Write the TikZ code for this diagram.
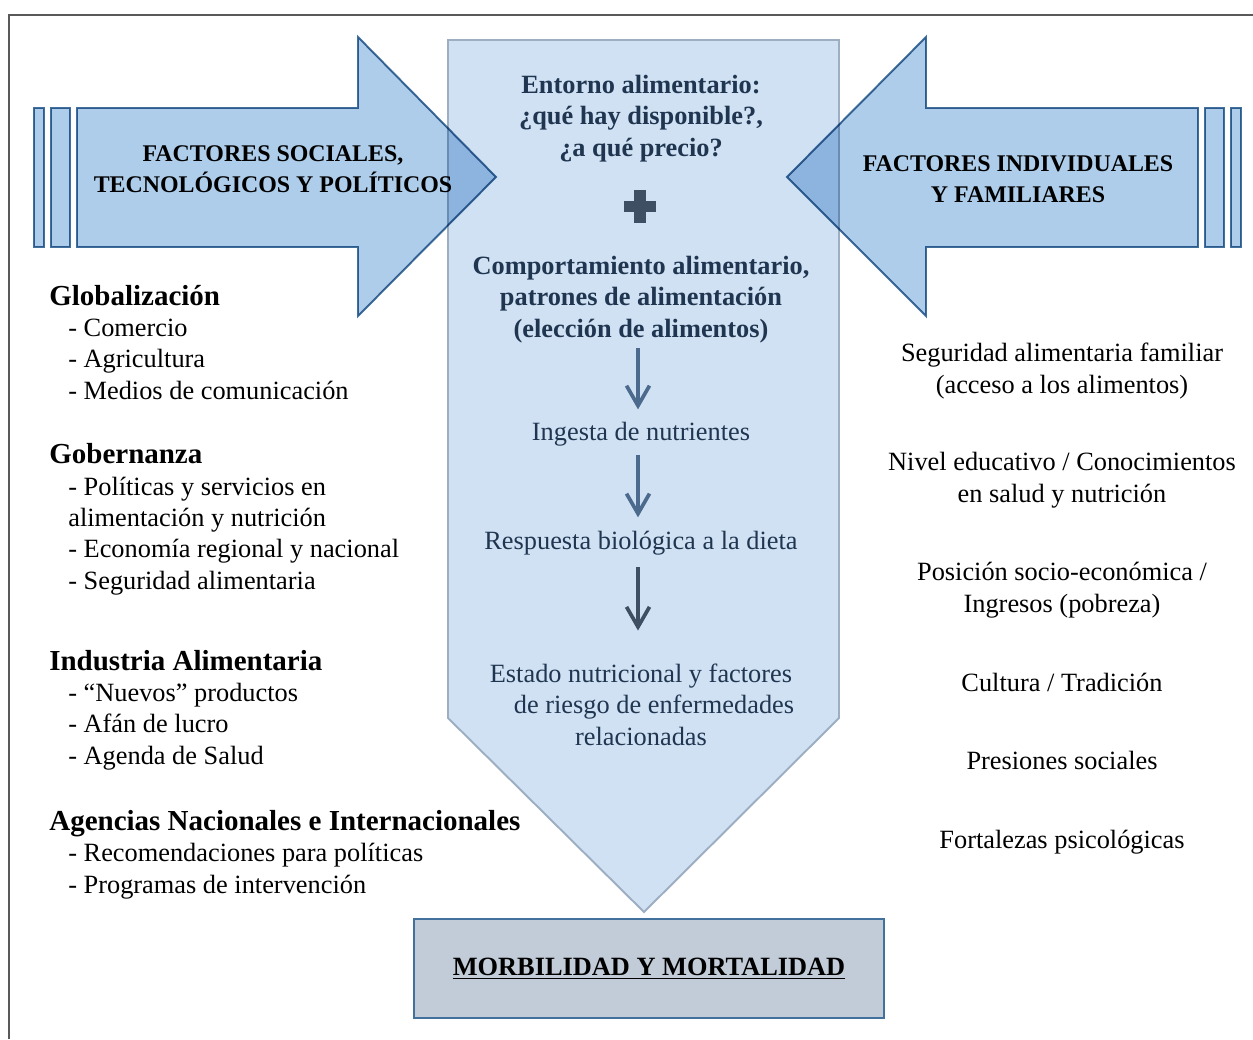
\documentclass[tikz,border=0pt]{standalone}
\usepackage{fontspec}
\setmainfont{Liberation Serif}
\usepackage{xcolor}
\usetikzlibrary{arrows.meta,positioning}
\definecolor{panelfill}{HTML}{CFE1F2}
\definecolor{panelline}{HTML}{9DAEC3}
\definecolor{sidefill}{HTML}{ADCDEA}
\definecolor{sideline}{HTML}{41719C}
\definecolor{boxfill}{HTML}{C2CCD9}
\definecolor{navy}{HTML}{1F3550}
\definecolor{flowblue}{HTML}{4B6A8E}
\definecolor{flowdark}{HTML}{3E4E63}
\definecolor{framegray}{HTML}{595959}
\newcommand{\bodyfont}{\fontsize{15}{17.8}\selectfont}
\newcommand{\headfont}{\fontsize{16.5}{17.8}\selectfont\bfseries}

\begin{document}
\begin{tikzpicture}[
  x=0.02cm, y=-0.02cm,
  every node/.style={inner sep=0pt},
  group/.style={anchor=base west,align=left,font=\bodyfont},
  rlist/.style={anchor=base,align=center,font=\bodyfont},
  mid/.style={anchor=base,align=center,text=navy,font=\bodyfont},
  midbold/.style={mid,font=\bodyfont\bfseries},
  sidelbl/.style={anchor=base,align=center,font=\fontsize{13.6}{17.4}\selectfont\bfseries},
  sidearrow/.style={fill=sidefill,draw=sideline,line width=1.1pt},
  flow/.style={line width=2.1pt,-{Straight Barb[length=0.4cm,width=0.46cm]}}
]
  \useasboundingbox (0,0) rectangle (1253,1039);
  \draw[framegray,line width=1pt] (9,1039) -- (9,15) -- (1253,15);

  % central column
  \draw[fill=panelfill,draw=panelline,line width=1.1pt]
    (448,40) -- (839,40) -- (839,718) -- (644,912) -- (448,718) -- cycle;

  % side arrows
  \begin{scope}[blend mode=multiply]
    \draw[sidearrow] (77,108) -- (358,108) -- (358,37) -- (496,177)
      -- (358,316) -- (358,247) -- (77,247) -- cycle;
    \draw[sidearrow] (34,108) rectangle (44,247);
    \draw[sidearrow] (51,108) rectangle (70,247);
    \draw[sidearrow] (1198,108) -- (926,108) -- (926,37) -- (787,177)
      -- (926,316) -- (926,247) -- (1198,247) -- cycle;
    \draw[sidearrow] (1205,108) rectangle (1224,247);
    \draw[sidearrow] (1231,108) rectangle (1241,247);
  \end{scope}
  % multi-line nodes sit on the baseline of their last line
  \node[sidelbl] (social) at (273,192) {FACTORES SOCIALES,\\TECNOLÓGICOS Y POLÍTICOS};
  \node[sidelbl] (indiv) at (1018,202) {FACTORES INDIVIDUALES\\Y FAMILIARES};

  % central text
  \node[midbold] (entorno) at (641,156) {Entorno alimentario:\\¿qué hay disponible?,\\¿a qué precio?};
  \fill[flowdark] (624,201) rectangle (656,212);
  \fill[flowdark] (634,190) rectangle (646,223);
  \node[midbold] (comport) at (641,337) {Comportamiento alimentario,\\patrones de alimentación\\(elección de alimentos)};
  \node[mid] (ingesta) at (641,440) {Ingesta de nutrientes};
  \node[mid] (resp) at (641,549) {Respuesta biológica a la dieta};
  \node[mid] (estado) at (641,745) {Estado nutricional y factores\\\hspace*{0.52cm}de riesgo de enfermedades\\relacionadas};

  \draw[flow,flowblue,shorten <=0.1cm,shorten >=0.24cm]
    ([xshift=-0.06cm]comport.south) -- ([xshift=-0.06cm]ingesta.north);
  \draw[flow,flowblue,shorten <=0.18cm,shorten >=0.26cm]
    ([xshift=-0.06cm]ingesta.south) -- ([xshift=-0.06cm]resp.north);
  \draw[flow,flowdark,shorten <=0.24cm,shorten >=0.66cm]
    ([xshift=-0.06cm]resp.south) -- ([xshift=-0.06cm]estado.north);

  % outcome
  \node[fill=boxfill,draw=sideline,line width=1.1pt,minimum width=9.4cm,
    minimum height=1.98cm,font=\bodyfont\bfseries] (outcome) at (649,968.5)
    {\underline{MORBILIDAD Y MORTALIDAD}};

  % left list
  \node[group] (glob) at (49,399) {{\headfont Globalización}\\
    \hspace*{0.38cm}- Comercio\\
    \hspace*{0.38cm}- Agricultura\\
    \hspace*{0.38cm}- Medios de comunicación};
  \node[group] (gob) at (49,589) {{\headfont Gobernanza}\\
    \hspace*{0.38cm}- Políticas y servicios en\\
    \hspace*{0.38cm}alimentación y nutrición\\
    \hspace*{0.38cm}- Economía regional y nacional\\
    \hspace*{0.38cm}- Seguridad alimentaria};
  \node[group] (ind) at (49,764) {{\headfont Industria Alimentaria}\\
    \hspace*{0.38cm}- “Nuevos” productos\\
    \hspace*{0.38cm}- Afán de lucro\\
    \hspace*{0.38cm}- Agenda de Salud};
  \node[group] (agen) at (49,893) {{\headfont Agencias Nacionales e Internacionales}\\
    \hspace*{0.38cm}- Recomendaciones para políticas\\
    \hspace*{0.38cm}- Programas de intervención};

  % right list
  \node[rlist] (segur) at (1062,393) {Seguridad alimentaria familiar\\(acceso a los alimentos)};
  \node[rlist] (nivel) at (1062,502) {Nivel educativo / Conocimientos\\en salud y nutrición};
  \node[rlist] (posic) at (1062,612) {Posición socio-económica /\\Ingresos (pobreza)};
  \node[rlist] (cult) at (1062,691) {Cultura / Tradición};
  \node[rlist] (pres) at (1062,769) {Presiones sociales};
  \node[rlist] (fort) at (1062,848) {Fortalezas psicológicas};
\end{tikzpicture}
\end{document}
